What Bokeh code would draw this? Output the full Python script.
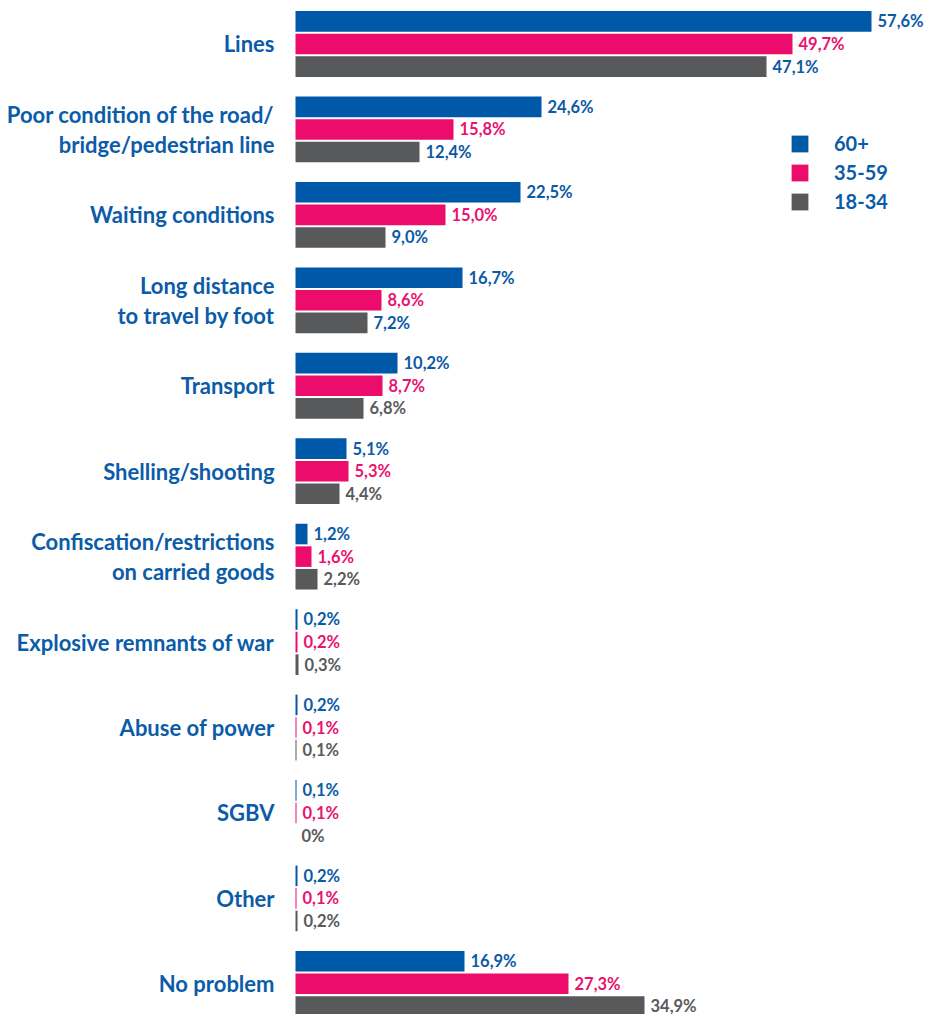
import numpy as np
from bokeh.plotting import figure
from bokeh.models import ColumnDataSource, Range1d, Legend, LegendItem
from bokeh.core.properties import value
from bokeh.embed import file_html
from bokeh.resources import INLINE

categories = [
    "Lines",
    "Poor condition of the road/\nbridge/pedestrian line",
    "Waiting conditions",
    "Long distance\nto travel by foot",
    "Transport",
    "Shelling/shooting",
    "Confiscation/restrictions\non carried goods",
    "Explosive remnants of war",
    "Abuse of power",
    "SGBV",
    "Other",
    "No problem",
]
age_60 = [57.6, 24.6, 22.5, 16.7, 10.2, 5.1, 1.2, 0.2, 0.2, 0.1, 0.2, 16.9]
age_35_59 = [49.7, 15.8, 15.0, 8.6, 8.7, 5.3, 1.6, 0.2, 0.1, 0.1, 0.1, 27.3]
age_18_34 = [47.1, 12.4, 9.0, 7.2, 6.8, 4.4, 2.2, 0.3, 0.1, 0.0, 0.2, 34.9]
series_names = ["60+", "35-59", "18-34"]

BLUE = "#0058a8"
PINK = "#ec0c6c"
GRAY = "#58595b"
LBL_BLUE = "#0b5aa6"
LBL_PINK = "#e8136e"
LBL_GRAY = "#5a5a5c"

label_colors_18_34 = [LBL_BLUE] * 4 + [LBL_GRAY] * 8

def fmt(v):
    return "0%" if v == 0 else f"{v:.1f}".replace(".", ",") + "%"

n = len(categories)
W, H = 925, 1014
p = figure(width=W, height=H, output_backend="svg", toolbar_location=None,
           x_range=Range1d(-29.5, 63.0), y_range=Range1d(11.359, -0.5091),
           min_border_left=0, min_border_right=0, min_border_top=0, min_border_bottom=0)
p.axis.visible = False
p.grid.visible = False
p.outline_line_color = None
p.background_fill_color = "white"
p.border_fill_color = "white"

bar_h = 0.241
step = 0.2645
idx = np.arange(n)
renderers = []
series = [(age_60, BLUE, [LBL_BLUE] * n, -step),
          (age_35_59, PINK, [LBL_PINK] * n, 0.0),
          (age_18_34, GRAY, label_colors_18_34, step)]
for vals, col, lcols, off in series:
    src = ColumnDataSource(dict(y=idx + off, v=vals, lbl=[fmt(v) for v in vals], lc=lcols))
    r = p.hbar(y="y", left=0, right="v", height=bar_h, source=src,
               fill_color=col, line_color=None)
    renderers.append(r)
    p.text(x="v", y="y", text="lbl", source=src, text_color="lc",
           text_font=value("Lato"), text_font_style="bold", text_font_size="16.5px",
           text_align="left", text_baseline="middle", x_offset=6)

cat_src = ColumnDataSource(dict(y=idx, t=categories))
p.text(x=-2.1, y="y", text="t", source=cat_src, text_color="#0b5ca8",
       text_font=value("Lato"), text_font_style="bold", text_font_size="22px",
       text_align="right", text_baseline="middle", text_line_height=1.1)

legend = Legend(items=[LegendItem(label=s, renderers=[r]) for s, r in zip(series_names, renderers)],
                location=(789, 801), orientation="vertical",
                glyph_width=21, glyph_height=21, label_standoff=24, spacing=5,
                label_text_font="Lato", label_text_font_style="bold",
                label_text_font_size="20px", label_text_color="#0b5ca8",
                border_line_color=None, background_fill_alpha=0,
                padding=0, margin=0)
p.add_layout(legend, "center")

open("out.html", "w").write(file_html(p, INLINE))
